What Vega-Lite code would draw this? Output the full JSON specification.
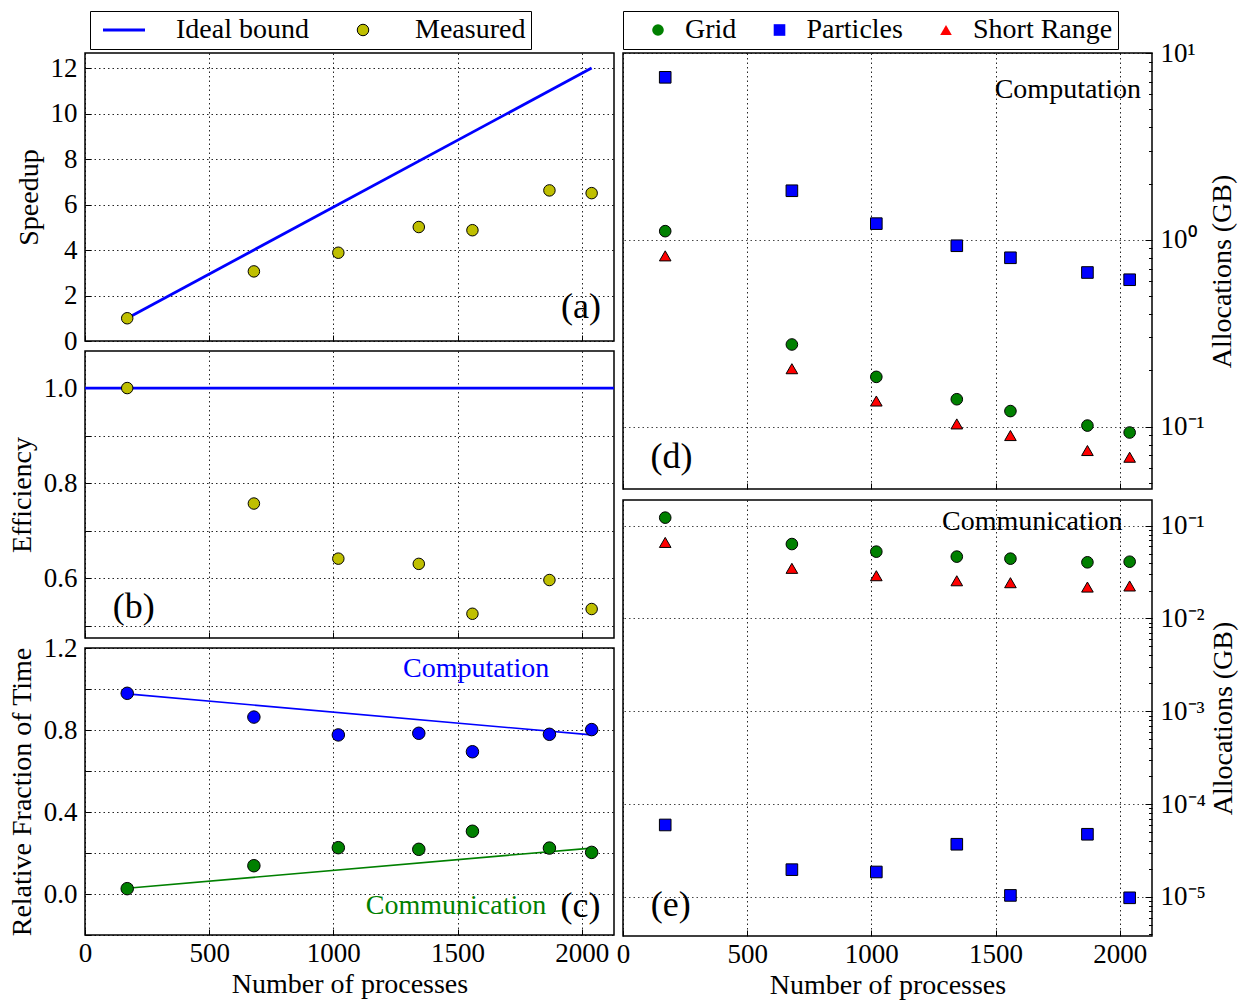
{
  "$schema": "https://vega.github.io/schema/vega-lite/v6.json",
  "background": "white",
  "padding": {"left": 7, "top": 9, "right": 0, "bottom": 0},
  "datasets": {
    "perf": [
      {"n": 170, "speedup": 1.0, "efficiency": 1.0, "comp": 0.979, "comm": 0.026},
      {"n": 680, "speedup": 3.06, "efficiency": 0.757, "comp": 0.863, "comm": 0.138},
      {"n": 1020, "speedup": 3.88, "efficiency": 0.641, "comp": 0.776, "comm": 0.226},
      {"n": 1344, "speedup": 5.01, "efficiency": 0.63, "comp": 0.784, "comm": 0.218},
      {"n": 1560, "speedup": 4.87, "efficiency": 0.525, "comp": 0.694, "comm": 0.306},
      {"n": 1870, "speedup": 6.62, "efficiency": 0.596, "comp": 0.779, "comm": 0.224},
      {"n": 2040, "speedup": 6.5, "efficiency": 0.535, "comp": 0.802, "comm": 0.203}
    ],
    "ideal": [
      {"n": 170, "speedup": 1.0},
      {"n": 2040, "speedup": 12.0}
    ],
    "fit": [
      {"n": 170, "comp_fit": 0.976, "comm_fit": 0.028},
      {"n": 2040, "comp_fit": 0.776, "comm_fit": 0.224}
    ],
    "alloc": [
      {"n": 170, "kind": "Grid", "comp_gb": 1.112, "comm_gb": 0.122},
      {"n": 680, "kind": "Grid", "comp_gb": 0.275, "comm_gb": 0.0634},
      {"n": 1020, "kind": "Grid", "comp_gb": 0.1845, "comm_gb": 0.0525},
      {"n": 1344, "kind": "Grid", "comp_gb": 0.14, "comm_gb": 0.0464},
      {"n": 1560, "kind": "Grid", "comp_gb": 0.121, "comm_gb": 0.0441},
      {"n": 1870, "kind": "Grid", "comp_gb": 0.1012, "comm_gb": 0.0403},
      {"n": 2040, "kind": "Grid", "comp_gb": 0.0929, "comm_gb": 0.0409},
      {"n": 170, "kind": "Particles", "comp_gb": 7.41, "comm_gb": 0.0000597},
      {"n": 680, "kind": "Particles", "comp_gb": 1.83, "comm_gb": 0.0000197},
      {"n": 1020, "kind": "Particles", "comp_gb": 1.22, "comm_gb": 0.0000186},
      {"n": 1344, "kind": "Particles", "comp_gb": 0.929, "comm_gb": 0.000037},
      {"n": 1560, "kind": "Particles", "comp_gb": 0.801, "comm_gb": 0.0000104},
      {"n": 1870, "kind": "Particles", "comp_gb": 0.668, "comm_gb": 0.0000474},
      {"n": 2040, "kind": "Particles", "comp_gb": 0.611, "comm_gb": 0.0000098},
      {"n": 170, "kind": "Short Range", "comp_gb": 0.82, "comm_gb": 0.066},
      {"n": 680, "kind": "Short Range", "comp_gb": 0.204, "comm_gb": 0.0347},
      {"n": 1020, "kind": "Short Range", "comp_gb": 0.137, "comm_gb": 0.0289},
      {"n": 1344, "kind": "Short Range", "comp_gb": 0.1033, "comm_gb": 0.0255},
      {"n": 1560, "kind": "Short Range", "comp_gb": 0.0895, "comm_gb": 0.0243},
      {"n": 1870, "kind": "Short Range", "comp_gb": 0.0744, "comm_gb": 0.0218},
      {"n": 2040, "kind": "Short Range", "comp_gb": 0.0685, "comm_gb": 0.0224}
    ]
  },
  "config": {
    "font": "Liberation Serif",
    "view": {"stroke": "black", "strokeWidth": 1.5},
    "axis": {
      "domain": false,
      "grid": true,
      "gridColor": "black",
      "gridDash": [1.5, 3],
      "gridWidth": 1,
      "gridOpacity": 0.85,
      "tickColor": "black",
      "tickSize": -6,
      "tickWidth": 1,
      "labelFont": "Liberation Serif",
      "labelFontSize": 27,
      "labelColor": "black",
      "labelOverlap": false,
      "titleFont": "Liberation Serif",
      "titleFontSize": 28,
      "titleFontWeight": "normal",
      "titleColor": "black"
    },
    "axisX": {"labelPadding": 11, "titlePadding": 4, "labelFlush": false, "format": "d"},
    "axisY": {"labelPadding": 14, "titlePadding": 7},
    "text": {"font": "Liberation Serif", "color": "black"}
  },
  "resolve": {"scale": {"fill": "independent", "shape": "independent", "stroke": "independent"}},
  "spacing": -2,
  "hconcat": [
    {
      "spacing": 10,
      "bounds": "flush",
      "vconcat": [
        {
          "width": 529,
          "height": 288,
          "layer": [
            {
              "data": {"name": "ideal"},
              "mark": {"type": "line", "strokeWidth": 2.8},
              "encoding": {
                "x": {"field": "n", "type": "quantitative", "scale": {"domain": [0, 2130], "nice": false, "zero": false}, "axis": {"values": [0, 500, 1000, 1500, 2000], "labels": false, "title": null}},
                "y": {"field": "speedup", "type": "quantitative", "scale": {"domain": [0, 12.66], "nice": false}, "axis": {"values": [0, 2, 4, 6, 8, 10, 12], "title": "Speedup"}},
                "stroke": {"datum": "Ideal bound", "type": "nominal", "scale": {"domain": ["Ideal bound", "Measured"], "range": ["#0000ff", "#000000"]},
                  "legend": {"title": null, "orient": "none", "legendX": 5, "legendY": -42, "direction": "horizontal", "symbolSize": 1764, "labelOffset": 38, "columnPadding": 25, "symbolOffset": 15, "padding": 5, "strokeColor": "black", "labelFontSize": 28, "labelFont": "Liberation Serif", "labelColor": "black",
                    "encode": {"symbols": {"update": {"size": {"signal": "datum.value === 'Ideal bound' ? 1764 : 132"}, "strokeWidth": {"signal": "datum.value === 'Ideal bound' ? 2.8 : 1"}}}}}}
              }
            },
            {
              "data": {"name": "perf"},
              "mark": {"type": "point", "filled": true, "size": 132, "strokeWidth": 1, "opacity": 1},
              "encoding": {
                "x": {"field": "n", "type": "quantitative"},
                "y": {"field": "speedup", "type": "quantitative"},
                "fill": {"datum": "Measured", "type": "nominal", "scale": {"domain": ["Ideal bound", "Measured"], "range": ["#0000ff", "#bfbf00"]},
                  "legend": {"title": null, "orient": "none", "legendX": 5, "legendY": -42, "direction": "horizontal", "symbolSize": 1764, "labelOffset": 38, "columnPadding": 25, "symbolOffset": 15, "padding": 5, "strokeColor": "black", "labelFontSize": 28, "labelFont": "Liberation Serif", "labelColor": "black",
                    "encode": {"symbols": {"update": {"size": {"signal": "datum.value === 'Ideal bound' ? 1764 : 132"}, "strokeWidth": {"signal": "datum.value === 'Ideal bound' ? 2.8 : 1"}}}}}},
                "shape": {"datum": "Measured", "type": "nominal", "scale": {"domain": ["Ideal bound", "Measured"], "range": ["stroke", "circle"]},
                  "legend": {"title": null, "orient": "none", "legendX": 5, "legendY": -42, "direction": "horizontal", "symbolSize": 1764, "labelOffset": 38, "columnPadding": 25, "symbolOffset": 15, "padding": 5, "strokeColor": "black", "labelFontSize": 28, "labelFont": "Liberation Serif", "labelColor": "black",
                    "encode": {"symbols": {"update": {"size": {"signal": "datum.value === 'Ideal bound' ? 1764 : 132"}, "strokeWidth": {"signal": "datum.value === 'Ideal bound' ? 2.8 : 1"}}}}}},
                "stroke": {"datum": "Measured", "type": "nominal"}
              }
            },
            {
              "data": {"values": [{}]},
              "mark": {"type": "text", "text": "(a)", "fontSize": 36, "align": "center", "baseline": "middle"},
              "encoding": {"x": {"datum": 1997}, "y": {"datum": 1.48}}
            }
          ]
        },
        {
          "width": 529,
          "height": 287,
          "layer": [
            {
              "data": {"values": [{}]},
              "mark": {"type": "rule", "color": "#0000ff", "strokeWidth": 2.8},
              "encoding": {"y": {"datum": 1.0, "type": "quantitative"}}
            },
            {
              "data": {"name": "perf"},
              "mark": {"type": "point", "filled": true, "size": 132, "fill": "#bfbf00", "stroke": "black", "strokeWidth": 1, "opacity": 1},
              "encoding": {
                "x": {"field": "n", "type": "quantitative", "scale": {"domain": [0, 2130], "nice": false, "zero": false}, "axis": {"values": [0, 500, 1000, 1500, 2000], "labels": false, "title": null}},
                "y": {"field": "efficiency", "type": "quantitative", "scale": {"domain": [0.474, 1.078], "nice": false, "zero": false}, "axis": {"values": [0.5, 0.6, 0.7, 0.8, 0.9, 1.0], "title": "Efficiency", "labelExpr": "round(datum.value*10) % 2 == 0 ? format(datum.value, '.1f') : ''"}}
              }
            },
            {
              "data": {"values": [{}]},
              "mark": {"type": "text", "text": "(b)", "fontSize": 36, "align": "center", "baseline": "middle"},
              "encoding": {"x": {"datum": 196}, "y": {"datum": 0.539}}
            }
          ]
        },
        {
          "width": 529,
          "height": 287,
          "layer": [
            {
              "data": {"name": "fit"},
              "mark": {"type": "line", "color": "#0000ff", "strokeWidth": 1.6},
              "encoding": {
                "x": {"field": "n", "type": "quantitative", "scale": {"domain": [0, 2130], "nice": false, "zero": false}, "axis": {"values": [0, 500, 1000, 1500, 2000], "title": "Number of processes"}},
                "y": {"field": "comp_fit", "type": "quantitative", "scale": {"domain": [-0.2, 1.2], "nice": false, "zero": false}, "axis": {"values": [-0.2, 0, 0.2, 0.4, 0.6, 0.8, 1.0, 1.2], "title": "Relative Fraction of Time", "labelExpr": "round(datum.value*10) % 4 == 0 ? format(datum.value, '.1f') : ''"}}
              }
            },
            {
              "data": {"name": "fit"},
              "mark": {"type": "line", "color": "#008000", "strokeWidth": 1.6},
              "encoding": {
                "x": {"field": "n", "type": "quantitative"},
                "y": {"field": "comm_fit", "type": "quantitative"}
              }
            },
            {
              "data": {"name": "perf"},
              "mark": {"type": "point", "filled": true, "size": 156, "fill": "#0000ff", "stroke": "black", "strokeWidth": 1, "opacity": 1},
              "encoding": {
                "x": {"field": "n", "type": "quantitative"},
                "y": {"field": "comp", "type": "quantitative"}
              }
            },
            {
              "data": {"name": "perf"},
              "mark": {"type": "point", "filled": true, "size": 156, "fill": "#008000", "stroke": "black", "strokeWidth": 1, "opacity": 1},
              "encoding": {
                "x": {"field": "n", "type": "quantitative"},
                "y": {"field": "comm", "type": "quantitative"}
              }
            },
            {
              "data": {"values": [{}]},
              "mark": {"type": "text", "text": "Computation", "fontSize": 28, "color": "#0000ff", "align": "center", "baseline": "middle"},
              "encoding": {"x": {"datum": 1575}, "y": {"datum": 1.098}}
            },
            {
              "data": {"values": [{}]},
              "mark": {"type": "text", "text": "Communication", "fontSize": 28, "color": "#008000", "align": "center", "baseline": "middle"},
              "encoding": {"x": {"datum": 1494}, "y": {"datum": -0.057}}
            },
            {
              "data": {"values": [{}]},
              "mark": {"type": "text", "text": "(c)", "fontSize": 36, "align": "center", "baseline": "middle"},
              "encoding": {"x": {"datum": 1995}, "y": {"datum": -0.057}}
            }
          ]
        }
      ]
    },
    {
      "spacing": 11,
      "bounds": "flush",
      "resolve": {"scale": {"fill": "independent", "shape": "independent"}},
      "vconcat": [
        {
          "width": 529,
          "height": 436,
          "layer": [
            {
              "data": {"name": "alloc"},
              "mark": {"type": "point", "filled": true, "size": 135, "stroke": "black", "strokeWidth": 1, "opacity": 1},
              "encoding": {
                "x": {"field": "n", "type": "quantitative", "scale": {"domain": [0, 2130], "nice": false, "zero": false}, "axis": {"values": [0, 500, 1000, 1500, 2000], "labels": false, "title": null}},
                "y": {"field": "comp_gb", "type": "quantitative", "scale": {"type": "log", "domain": [0.0463, 10], "nice": false},
                  "axis": {"orient": "right", "title": "Allocations (GB)", "titleAngle": 270, "titleBaseline": "top", "titlePadding": 4, "labelPadding": 15,
                    "values": [0.05, 0.06, 0.07, 0.08, 0.09, 0.1, 0.2, 0.3, 0.4, 0.5, 0.6, 0.7, 0.8, 0.9, 1, 2, 3, 4, 5, 6, 7, 8, 9, 10],
                    "labelExpr": "abs(log(datum.value)/LN10 - round(log(datum.value)/LN10)) < 0.01 ? '10' + (round(log(datum.value)/LN10) == 1 ? '¹' : round(log(datum.value)/LN10) == 0 ? '⁰' : '⁻' + ['','¹','²','³','⁴','⁵'][-round(log(datum.value)/LN10)]) : ''",
                    "tickSize": {"condition": {"test": "abs(log(datum.value)/LN10 - round(log(datum.value)/LN10)) < 0.01", "value": -7}, "value": -3.5},
                    "gridOpacity": {"condition": {"test": "abs(log(datum.value)/LN10 - round(log(datum.value)/LN10)) < 0.01", "value": 0.85}, "value": 0}}},
                "fill": {"field": "kind", "type": "nominal", "scale": {"domain": ["Grid", "Particles", "Short Range"], "range": ["#008000", "#0000ff", "#ff0000"]},
                  "legend": {"title": null, "orient": "none", "legendX": 0, "legendY": -42, "direction": "horizontal", "symbolSize": 135, "labelOffset": 13, "columnPadding": 12.5, "symbolOffset": 16, "padding": 5, "strokeColor": "black", "labelFontSize": 28, "labelFont": "Liberation Serif", "labelColor": "black", "symbolStrokeColor": "black", "symbolStrokeWidth": 1}},
                "shape": {"field": "kind", "type": "nominal", "scale": {"domain": ["Grid", "Particles", "Short Range"], "range": ["circle", "square", "triangle-up"]},
                  "legend": {"title": null, "orient": "none", "legendX": 0, "legendY": -42, "direction": "horizontal", "symbolSize": 135, "labelOffset": 13, "columnPadding": 12.5, "symbolOffset": 16, "padding": 5, "strokeColor": "black", "labelFontSize": 28, "labelFont": "Liberation Serif", "labelColor": "black", "symbolStrokeColor": "black", "symbolStrokeWidth": 1}}
              }
            },
            {
              "data": {"values": [{}]},
              "mark": {"type": "text", "text": "Computation", "fontSize": 28, "align": "center", "baseline": "middle"},
              "encoding": {"x": {"datum": 1791}, "y": {"datum": 6.36}}
            },
            {
              "data": {"values": [{}]},
              "mark": {"type": "text", "text": "(d)", "fontSize": 36, "align": "center", "baseline": "middle"},
              "encoding": {"x": {"datum": 195}, "y": {"datum": 0.069}}
            }
          ]
        },
        {
          "width": 529,
          "height": 436,
          "layer": [
            {
              "data": {"name": "alloc"},
              "mark": {"type": "point", "filled": true, "size": 135, "stroke": "black", "strokeWidth": 1, "opacity": 1},
              "encoding": {
                "x": {"field": "n", "type": "quantitative", "scale": {"domain": [0, 2130], "nice": false, "zero": false}, "axis": {"values": [0, 500, 1000, 1500, 2000], "title": "Number of processes"}},
                "y": {"field": "comm_gb", "type": "quantitative", "scale": {"type": "log", "domain": [0.0000038, 0.189], "nice": false},
                  "axis": {"orient": "right", "title": "Allocations (GB)", "titleAngle": 270, "titleBaseline": "top", "titlePadding": 4, "labelPadding": 15,
                    "values": [0.000004, 0.000005, 0.000006, 0.000007, 0.000008, 0.000009, 0.00001, 0.00002, 0.00003, 0.00004, 0.00005, 0.00006, 0.00007, 0.00008, 0.00009, 0.0001, 0.0002, 0.0003, 0.0004, 0.0005, 0.0006, 0.0007, 0.0008, 0.0009, 0.001, 0.002, 0.003, 0.004, 0.005, 0.006, 0.007, 0.008, 0.009, 0.01, 0.02, 0.03, 0.04, 0.05, 0.06, 0.07, 0.08, 0.09, 0.1],
                    "labelExpr": "abs(log(datum.value)/LN10 - round(log(datum.value)/LN10)) < 0.01 ? '10' + (round(log(datum.value)/LN10) == 1 ? '¹' : round(log(datum.value)/LN10) == 0 ? '⁰' : '⁻' + ['','¹','²','³','⁴','⁵'][-round(log(datum.value)/LN10)]) : ''",
                    "tickSize": {"condition": {"test": "abs(log(datum.value)/LN10 - round(log(datum.value)/LN10)) < 0.01", "value": -7}, "value": -3.5},
                    "gridOpacity": {"condition": {"test": "abs(log(datum.value)/LN10 - round(log(datum.value)/LN10)) < 0.01", "value": 0.85}, "value": 0}}},
                "fill": {"field": "kind", "type": "nominal", "scale": {"domain": ["Grid", "Particles", "Short Range"], "range": ["#008000", "#0000ff", "#ff0000"]}, "legend": null},
                "shape": {"field": "kind", "type": "nominal", "scale": {"domain": ["Grid", "Particles", "Short Range"], "range": ["circle", "square", "triangle-up"]}, "legend": null}
              }
            },
            {
              "data": {"values": [{}]},
              "mark": {"type": "text", "text": "Communication", "fontSize": 28, "align": "center", "baseline": "middle"},
              "encoding": {"x": {"datum": 1648}, "y": {"datum": 0.1086}}
            },
            {
              "data": {"values": [{}]},
              "mark": {"type": "text", "text": "(e)", "fontSize": 36, "align": "center", "baseline": "middle"},
              "encoding": {"x": {"datum": 192}, "y": {"datum": 0.00000813}}
            }
          ]
        }
      ]
    }
  ]
}
